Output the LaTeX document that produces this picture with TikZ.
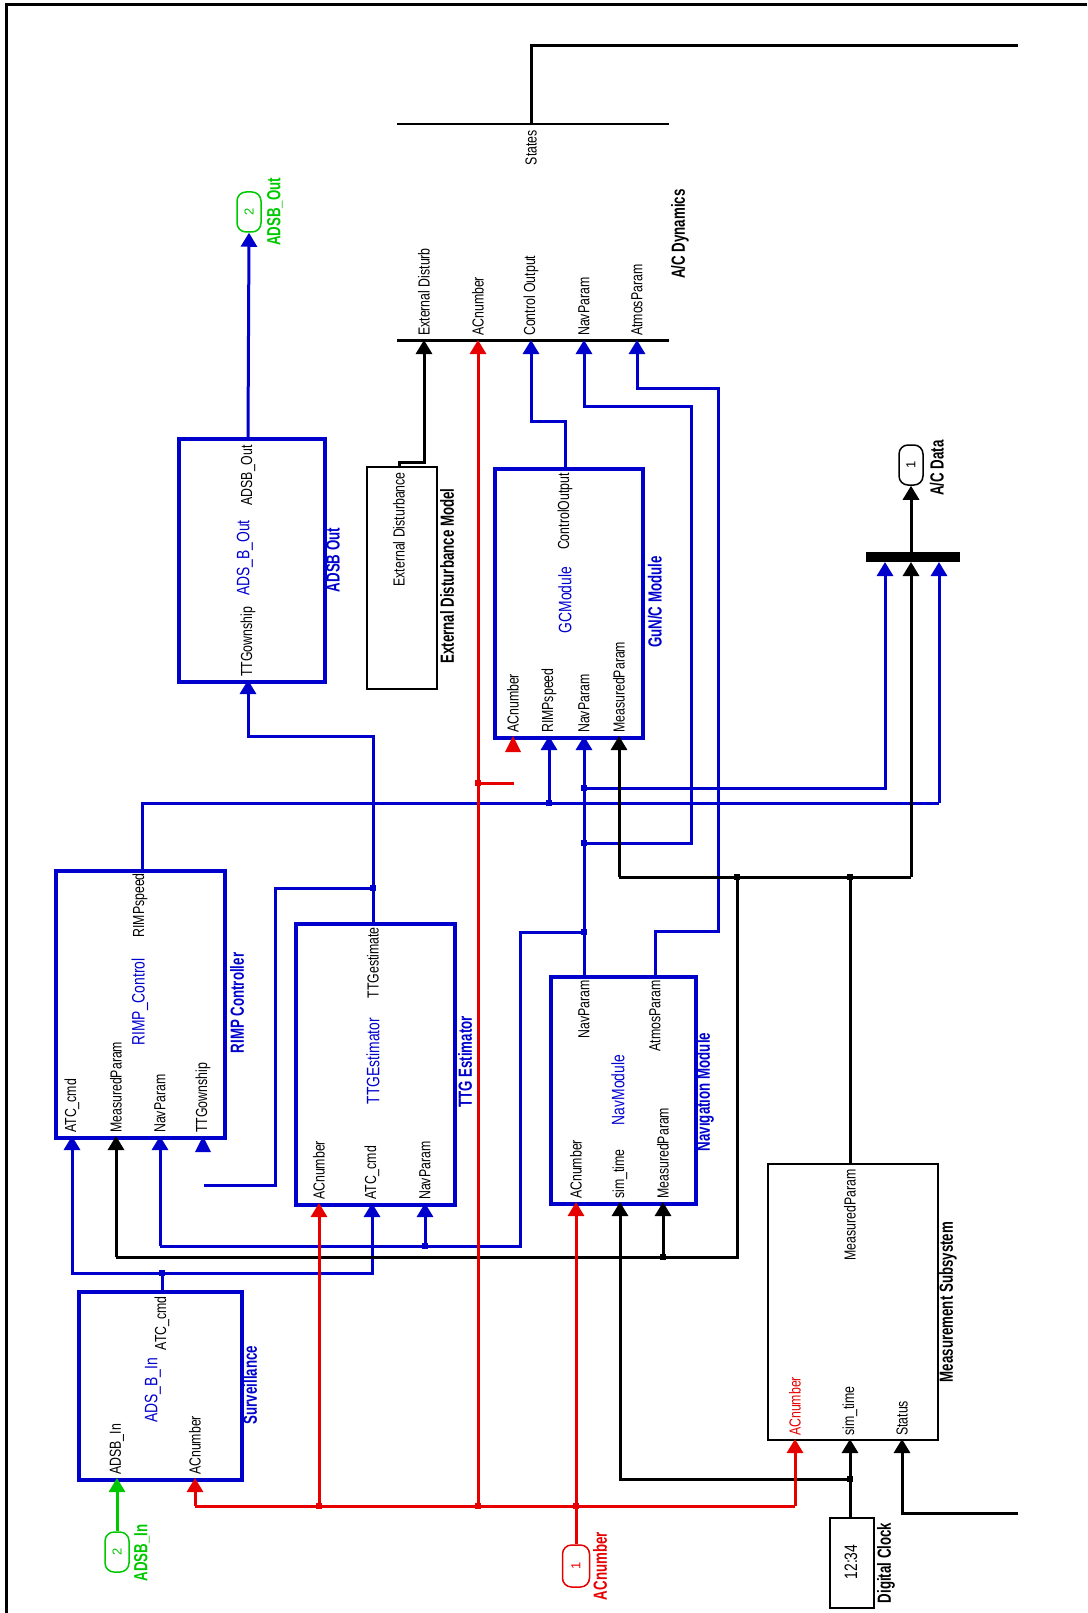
\documentclass[tikz,border=0pt]{standalone}
\usepackage{fontspec}
\setmainfont{Liberation Sans}
\newfontfamily\lblfont{Liberation Sans}[FakeStretch=0.77]
\newfontfamily\bldfont{Liberation Sans}[FakeStretch=0.7]
\usetikzlibrary{arrows.meta}
\definecolor{sblue}{RGB}{0,0,205}
\definecolor{sred}{RGB}{230,0,0}
\definecolor{sgreen}{RGB}{0,200,0}
\begin{document}
\begin{tikzpicture}[x=1pt,y=-1pt,
  wire/.style={line width=3pt},
  bw/.style={wire,draw=sblue},
  rw/.style={wire,draw=sred},
  kw/.style={wire,draw=black},
  gw/.style={wire,draw=sgreen},
  arr/.style={-{Triangle[length=14pt,width=16pt]}},
  bluebox/.style={draw=sblue,line width=4pt,anchor=north west,inner sep=0pt},
  blackbox/.style={draw=black,line width=2pt,anchor=north west,inner sep=0pt},
  lbl/.style={rotate=90,inner sep=0pt,font=\lblfont\fontsize{16pt}{16pt}\selectfont},
  inl/.style={lbl,anchor=west},
  outl/.style={lbl,anchor=east},
  ctr/.style={rotate=90,inner sep=0pt,text=sblue,font=\lblfont\fontsize{18pt}{18pt}\selectfont},
  bname/.style={rotate=90,inner sep=0pt,font=\bldfont\bfseries\fontsize{19pt}{19pt}\selectfont},
  portshape/.style={rounded corners=9pt,line width=1.5pt,inner sep=0pt,minimum width=24pt,minimum height=40pt},
  jdot/.style={fill,minimum size=6pt,inner sep=0pt},
]
\useasboundingbox (0,0) rectangle (1087,1613);
% frame
\draw[line width=3pt] (6,1613) -- (6,5) -- (1087,5);

% ---------------- A/C Dynamics
\coordinate (stL) at (397,124); \coordinate (stR) at (669,124);
\coordinate (dynL) at (397,340); \coordinate (dynR) at (669,340);
\draw[line width=1.5pt] (stL) -- (stR);
\draw[line width=3pt] (dynL) -- (dynR);
\coordinate (dSt) at (531,124); \coordinate (stTop) at (531,46); \coordinate (stEnd) at (1018,46);
\coordinate (dExt) at (424,340); \coordinate (dAcn) at (478,340); \coordinate (dCtl) at (531,340);
\coordinate (dNav) at (584,340); \coordinate (dAtm) at (637,340);
\node[outl] (lSt) at (531,130) {States};
\node[inl] (lDExt) at (424,336) {External Disturb};
\node[inl] (lDAcn) at (478,336) {ACnumber};
\node[inl] (lDCtl) at (531,336) {Control Output};
\node[inl] (lDNav) at (584,336) {NavParam};
\node[inl] (lDAtm) at (637,336) {AtmosParam};
\node[bname] (nDyn) at (680,234) {A/C Dynamics};

% ---------------- blocks
\node[bluebox,minimum width=146pt,minimum height=243pt] (adsbo) at (177,437) {};
\node[blackbox,minimum width=70pt,minimum height=222pt] (extd) at (366,466) {};
\node[bluebox,minimum width=148pt,minimum height=269pt] (gc) at (493,467) {};
\node[bluebox,minimum width=169pt,minimum height=267pt] (rimp) at (54,869) {};
\node[bluebox,minimum width=159pt,minimum height=281pt] (ttg) at (294,922) {};
\node[bluebox,minimum width=145pt,minimum height=227pt] (nav) at (549,975) {};
\node[bluebox,minimum width=163pt,minimum height=188pt] (surv) at (77,1290) {};
\node[blackbox,minimum width=170pt,minimum height=276pt] (meas) at (767,1163) {};
\node[blackbox,minimum width=44pt,minimum height=90pt] (clk) at (829,1517) {};
\node[fill=black,anchor=north west,inner sep=0pt,minimum width=94pt,minimum height=10pt] (mux) at (866,552) {};

% ports (in/out blocks)
\node[portshape,draw=sgreen,text=sgreen] (pOut2) at (249,212) {\rotatebox{90}{\fontsize{13pt}{13pt}\selectfont 2}};
\node[portshape,draw=black] (pOut1) at (911,465) {\rotatebox{90}{\fontsize{13pt}{13pt}\selectfont 1}};
\node[portshape,draw=sgreen,text=sgreen] (pIn2) at (117,1552) {\rotatebox{90}{\fontsize{13pt}{13pt}\selectfont 2}};
\node[portshape,draw=sred,text=sred,minimum width=27pt,minimum height=42pt] (pIn1) at (576,1566) {\rotatebox{90}{\fontsize{13pt}{13pt}\selectfont 1}};

% block texts
\node[outl] (l1) at (248,445) {ADSB\_Out};
\node[ctr] (l2) at (245,558) {ADS\_B\_Out};
\node[inl] (l3) at (248,677) {TTGownship};
\node[bname,text=sblue] (n1) at (333,560) {ADSB Out};
\node[bname,text=sgreen] (n2) at (275,212) {ADSB\_Out};

\node[outl] (l4) at (399,472) {External Disturbance};
\node[bname] (n3) at (447,576) {External Disturbance Model};

\node[outl] (l5) at (565,473) {ControlOutput};
\node[ctr] (l6) at (565,600) {GCModule};
\node[inl] (l7) at (513,733) {ACnumber};
\node[inl] (l8) at (549,733) {RIMPspeed};
\node[inl] (l9) at (584,733) {NavParam};
\node[inl] (l10) at (619,733) {MeasuredParam};
\node[bname,text=sblue] (n4) at (655,602) {GuN/C Module};

\node[outl] (l11) at (140,873) {RIMPspeed};
\node[ctr] (l12) at (140,1002) {RIMP\_Control};
\node[inl] (l13) at (72,1133) {ATC\_cmd};
\node[inl] (l14) at (116,1133) {MeasuredParam};
\node[inl] (l15) at (160,1133) {NavParam};
\node[inl] (l16) at (203,1133) {TTGownship};
\node[bname,text=sblue] (n5) at (237,1003) {RIMP Controller};

\node[outl] (l17) at (373,927) {TTGestimate};
\node[ctr] (l18) at (373,1061) {TTGEstimator};
\node[inl] (l19) at (319,1200) {ACnumber};
\node[inl] (l20) at (372,1200) {ATC\_cmd};
\node[inl] (l21) at (425,1200) {NavParam};
\node[bname,text=sblue] (n6) at (465,1062) {TTG Estimator};

\node[outl] (l22) at (584,980) {NavParam};
\node[outl] (l23) at (655,980) {AtmosParam};
\node[ctr] (l24) at (618,1090) {NavModule};
\node[inl] (l25) at (576,1199) {ACnumber};
\node[inl] (l26) at (620,1199) {sim\_time};
\node[inl] (l27) at (663,1199) {MeasuredParam};
\node[bname,text=sblue] (n7) at (705,1092) {Navigation Module};

\node[outl] (l28) at (162,1296) {ATC\_cmd};
\node[ctr,anchor=east] (l29) at (153,1358) {ADS\_B\_In};
\node[inl] (l30) at (117,1475) {ADSB\_In};
\node[inl] (l31) at (195,1475) {ACnumber};
\node[bname,text=sblue] (n8) at (250,1385) {Surveillance};

\node[outl] (l32) at (850,1169) {MeasuredParam};
\node[inl,text=sred] (l33) at (795,1436) {ACnumber};
\node[inl] (l34) at (850,1436) {sim\_time};
\node[inl] (l35) at (902,1436) {Status};
\node[bname] (n9) at (948,1302) {Measurement Subsystem};

\node[rotate=90,inner sep=0pt,font=\lblfont\fontsize{18pt}{18pt}\selectfont] (l36) at (851,1562) {12:34};
\node[bname] (n10) at (886,1563) {Digital Clock};

\node[bname] (n11) at (937,468) {A/C Data};
\node[bname,text=sgreen] (n12) at (142,1553) {ADSB\_In};
\node[bname,text=sred] (n13) at (600,1566) {ACnumber};

% ---------------- port coordinates
\coordinate (adsboOut) at (248,437); \coordinate (adsboIn) at (248,680);
\coordinate (extOut) at (399,466);
\coordinate (gcOut) at (565,467);
\coordinate (gcA) at (513,736); \coordinate (gcR) at (549,736); \coordinate (gcN) at (584,736); \coordinate (gcM) at (619,736);
\coordinate (rO) at (142,869);
\coordinate (rA) at (72,1136); \coordinate (rM) at (116,1136); \coordinate (rN) at (160,1136); \coordinate (rT) at (203,1136);
\coordinate (tO) at (373,922);
\coordinate (tA) at (319,1203); \coordinate (tC) at (372,1203); \coordinate (tN) at (425,1203);
\coordinate (nN) at (584,975); \coordinate (nAt) at (655,975);
\coordinate (nAc) at (576,1202); \coordinate (nS) at (620,1202); \coordinate (nM) at (663,1202);
\coordinate (sO) at (162,1290); \coordinate (sI) at (117,1478); \coordinate (sA) at (195,1478);
\coordinate (mO) at (850,1163); \coordinate (mA) at (795,1439); \coordinate (mS) at (850,1439); \coordinate (mT) at (902,1439);
\coordinate (cO) at (850,1517);
\coordinate (x1) at (885,562); \coordinate (x2) at (911,562); \coordinate (x3) at (939,562); \coordinate (xO) at (911,552);

% junctions
\coordinate (jR1) at (195,1506); \coordinate (jR2) at (319,1506); \coordinate (jR3) at (478,1506);
\coordinate (jR4) at (576,1506); \coordinate (jR5) at (795,1506); \coordinate (jR6) at (478,783);
\coordinate (jS) at (850,1479); \coordinate (jS2) at (620,1479);
\coordinate (jM1) at (619,877); \coordinate (jM2) at (737,877); \coordinate (jM3) at (850,877); \coordinate (jM4) at (911,877);
\coordinate (jM5) at (737,1257); \coordinate (jM6) at (663,1257); \coordinate (jM7) at (116,1257);
\coordinate (jN1) at (584,932); \coordinate (jN2) at (584,843); \coordinate (jN3) at (584,788);
\coordinate (jN4) at (520,932); \coordinate (jN5) at (520,1246); \coordinate (jN6) at (425,1246); \coordinate (jN7) at (160,1246);
\coordinate (jR) at (142,803); \coordinate (jR8) at (549,803); \coordinate (jR9) at (939,803);
\coordinate (jC1) at (162,1273); \coordinate (jC2) at (72,1273); \coordinate (jC3) at (372,1273);
\coordinate (jT1) at (373,888); \coordinate (jT2) at (373,736); \coordinate (jT3) at (275,888);
\coordinate (dangT) at (204,1185); \coordinate (redStub) at (514,783);

% ---------------- wires
% states
\draw[kw] (dSt) -- (stTop) -- (stEnd);
% external disturbance
\draw[kw,arr] (extOut) -- (399,462) -- (424,462) -- (dExt);
% ADSB out
\draw[bw,arr] (adsboOut) -- (pOut2.south);
% control output
\draw[bw,arr] (gcOut) -- (565,421) -- (531,421) -- (dCtl);
% TTG estimate
\draw[bw,arr] (tO) -- (jT2) -| (adsboIn);
\draw[bw] (jT1) -- (jT3) |- (dangT);
% RIMP speed
\draw[bw] (rO) -- (jR) -- (jR9);
\draw[bw,arr] (jR9) -- (x3);
\draw[bw,arr] (jR8) -- (gcR);
% NavParam
\draw[bw,arr] (nN) -- (gcN);
\draw[bw] (jN1) -- (jN4) -- (jN5) -- (jN7);
\draw[bw,arr] (jN7) -- (rN);
\draw[bw,arr] (jN6) -- (tN);
\draw[bw,arr] (jN2) -- (691,843) -- (691,406) -- (584,406) -- (dNav);
\draw[bw,arr] (jN3) -- (885,788) -- (x1);
% AtmosParam
\draw[bw,arr] (nAt) -- (655,931) -- (718,931) -- (718,388) -- (637,388) -- (dAtm);
% ATC cmd
\draw[bw] (sO) -- (jC1);
\draw[bw,arr] (jC1) -- (jC2) -- (rA);
\draw[bw,arr] (jC1) -- (jC3) -- (tC);
% Measured param
\draw[kw] (mO) -- (jM3);
\draw[kw,arr] (jM1) -- (gcM);
\draw[kw] (jM1) -- (jM4);
\draw[kw,arr] (jM4) -- (x2);
\draw[kw] (jM2) -- (jM5) -- (jM7);
\draw[kw,arr] (jM7) -- (rM);
\draw[kw,arr] (jM6) -- (nM);
% sim time
\draw[kw,arr] (cO) -- (mS);
\draw[kw,arr] (jS) -- (jS2) -- (nS);
% status
\draw[kw,arr] (1018,1513) -- (902,1513) -- (mT);
% mux out
\draw[kw,arr] (xO) -- (pOut1.south);
% ADSB in
\draw[gw,arr] (pIn2.north) -- (sI);
% ACnumber (red)
\draw[rw,arr] (pIn1.north) -- (nAc);
\draw[rw] (jR1) -- (jR5);
\draw[rw,arr] (jR1) -- (sA);
\draw[rw,arr] (jR2) -- (tA);
\draw[rw,arr] (jR3) -- (dAcn);
\draw[rw,arr] (jR5) -- (mA);
\draw[rw] (jR6) -- (redStub);
% unconnected input arrowheads
\fill[sred] (505,752) -- (521,752) -- (gcA) -- cycle;
\fill[sblue] (195,1152) -- (211,1152) -- (rT) -- cycle;

% junction marks
\foreach \p in {jR2,jR3,jR4,jR6}{\node[jdot,sred] at (\p) {};}
\foreach \p in {jS,jM2,jM3,jM6}{\node[jdot,black] at (\p) {};}
\foreach \p in {jN1,jN2,jN3,jN6,jR8,jC1,jT1}{\node[jdot,sblue] at (\p) {};}
\end{tikzpicture}
\end{document}
